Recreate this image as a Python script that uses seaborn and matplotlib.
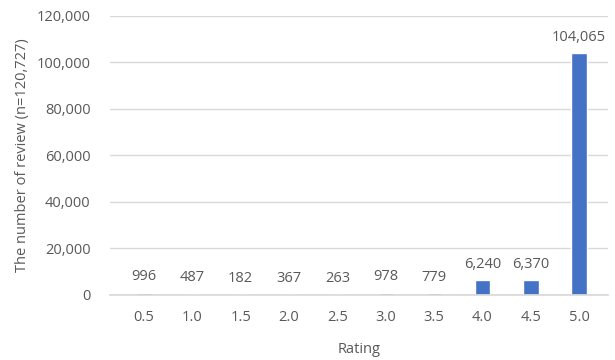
import matplotlib
matplotlib.use("Agg")
import matplotlib.pyplot as plt
import seaborn as sns
import pandas as pd
from matplotlib.ticker import FuncFormatter

ratings = ["0.5", "1.0", "1.5", "2.0", "2.5", "3.0", "3.5", "4.0", "4.5", "5.0"]
counts = [996, 487, 182, 367, 263, 978, 779, 6240, 6370, 104065]
y_ticks = [0, 20000, 40000, 60000, 80000, 100000, 120000]

df = pd.DataFrame({"Rating": ratings, "Count": counts})

sns.set_theme(style="white")
plt.rcParams["font.family"] = ["Open Sans", "DejaVu Sans"]
text_color = "#595959"
fs = 10.5

fig = plt.figure(figsize=(6.15, 3.6), dpi=100)
ax = fig.add_axes([0.179, 0.181, 0.81, 0.775])

sns.barplot(data=df, x="Rating", y="Count", order=ratings, color="#4472C4",
            width=0.33, saturation=1, ax=ax, zorder=3)

ax.set_ylim(0, 120000)
ax.set_yticks(y_ticks)
ax.yaxis.set_major_formatter(FuncFormatter(lambda v, _: f"{int(v):,}"))
ax.grid(axis="y", color="#d9d9d9", linewidth=1, zorder=0)
ax.set_xlim(-0.7, 9.6)

for s in ["top", "right", "left"]:
    ax.spines[s].set_visible(False)
ax.spines["bottom"].set_color("#d9d9d9")
ax.spines["bottom"].set_zorder(4)

ax.tick_params(axis="both", length=0, colors=text_color, labelsize=fs)
ax.tick_params(axis="x", pad=11)
ax.tick_params(axis="y", pad=14)

for i, c in enumerate(counts):
    ax.annotate(f"{c:,}", (i, c), xytext=(0, 6), textcoords="offset points",
                ha="center", va="bottom", fontsize=fs, color=text_color)

ax.set_xlabel("Rating", fontsize=fs, color=text_color, labelpad=12)
ax.set_ylabel("The number of review (n=120,727)", fontsize=fs,
              color=text_color, labelpad=5)

fig.savefig("out.png", dpi=100)
